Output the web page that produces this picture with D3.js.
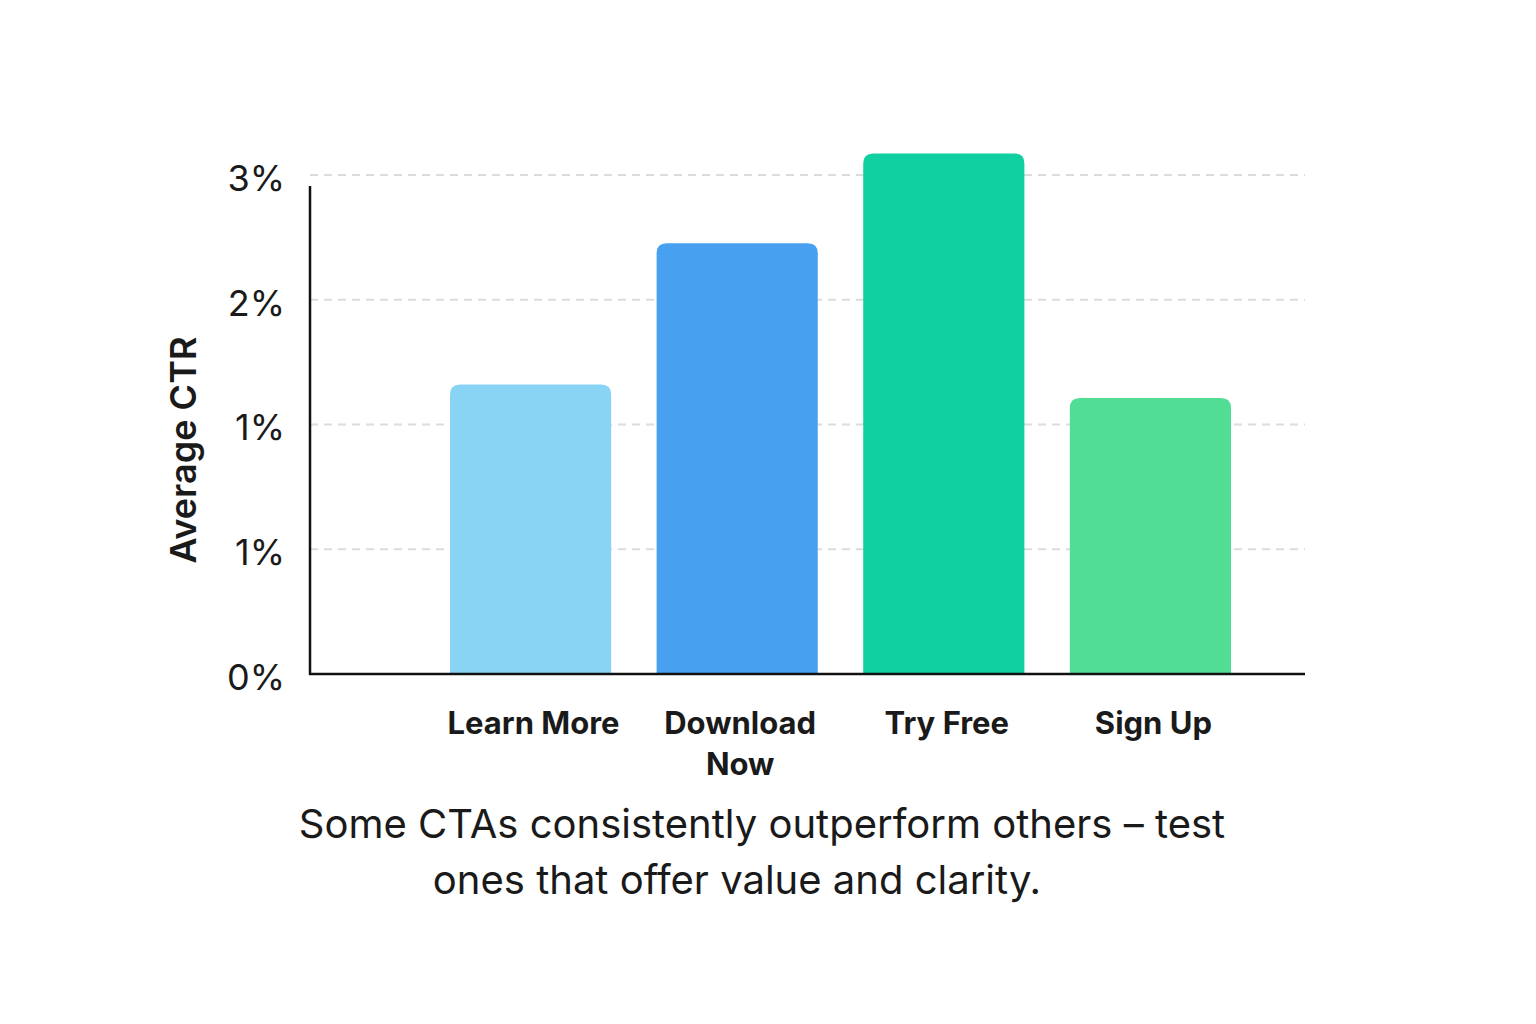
<!DOCTYPE html>
<html lang="en">
<head>
<meta charset="UTF-8">
<script src="https://d3js.org/d3.v7.min.js"></script>
<style>
  body { margin: 0; background: #fff; font-family: Inter, "Noto Sans", sans-serif; }
</style>
</head>
<body>
<svg width="1536" height="1024"></svg>
<script>
// data
const categories = ["Learn More", "Download Now", "Try Free", "Sign Up"];
const ctrValues = [1.74, 2.59, 3.13, 1.66];
const barColors = ["#89d4f5", "#48a0f0", "#10cfa0", "#52dd95"];
const tickValues = [0, 0.75, 1.5, 2.25, 3];
const tickLabels = ["0%", "1%", "1%", "2%", "3%"];
const captionLines = ["Some CTAs consistently outperform others – test", "ones that offer value and clarity."];

const svg = d3.select("svg");
const x0 = 310, x1 = 1305;

const y = d3.scaleLinear().domain([0, 3]).range([674, 175]);
const x = d3.scaleBand().domain(categories).range([450, 1231]).paddingInner(0.22).paddingOuter(0);

// gridlines
svg.append("g").selectAll("line").data(tickValues.slice(1)).join("line")
  .attr("x1", x0).attr("x2", x1)
  .attr("y1", d => y(d)).attr("y2", d => y(d))
  .attr("stroke", "#dcdcdc").attr("stroke-width", 2).attr("stroke-dasharray", "8,6");

// bars with rounded tops
const r = 10;
svg.append("g").selectAll("path").data(categories).join("path")
  .attr("fill", (d, i) => barColors[i])
  .attr("d", (d, i) => {
    const bx = x(d), bw = x.bandwidth(), top = y(ctrValues[i]), bot = y(0);
    return `M${bx},${bot}V${top + r}Q${bx},${top} ${bx + r},${top}H${bx + bw - r}Q${bx + bw},${top} ${bx + bw},${top + r}V${bot}Z`;
  });

// axes lines
svg.append("line").attr("x1", x0).attr("x2", x0).attr("y1", 186).attr("y2", 675)
  .attr("stroke", "#111").attr("stroke-width", 2.5);
svg.append("line").attr("x1", x0 - 1).attr("x2", x1).attr("y1", 674).attr("y2", 674)
  .attr("stroke", "#111").attr("stroke-width", 2.5);

// y tick labels
svg.append("g").selectAll("text").data(tickValues).join("text")
  .attr("x", 285).attr("y", d => y(d) + 6)
  .attr("text-anchor", "end").attr("dominant-baseline", "middle")
  .attr("font-size", 36).attr("fill", "#1a1a1a")
  .text((d, i) => tickLabels[i]);

// y axis title
svg.append("text")
  .attr("transform", "translate(196,450) rotate(-90)")
  .attr("text-anchor", "middle")
  .attr("font-size", 36).attr("font-weight", 600).attr("fill", "#1a1a1a")
  .text("Average CTR");

// x labels
categories.forEach(c => {
  const words = c === "Download Now" ? ["Download", "Now"] : [c];
  words.forEach((w, j) => {
    svg.append("text")
      .attr("x", x(c) + x.bandwidth() / 2 + 3).attr("y", 734 + j * 41)
      .attr("text-anchor", "middle")
      .attr("font-size", 31).attr("font-weight", 700).attr("fill", "#1a1a1a")
      .text(w);
  });
});

// caption
svg.append("g").selectAll("text").data(captionLines).join("text")
  .attr("x", (d, i) => i === 0 ? 762 : 737).attr("y", (d, i) => 838 + i * 56)
  .attr("text-anchor", "middle")
  .attr("font-size", 40).attr("fill", "#1a1a1a")
  .text(d => d);
</script>
</body>
</html>
